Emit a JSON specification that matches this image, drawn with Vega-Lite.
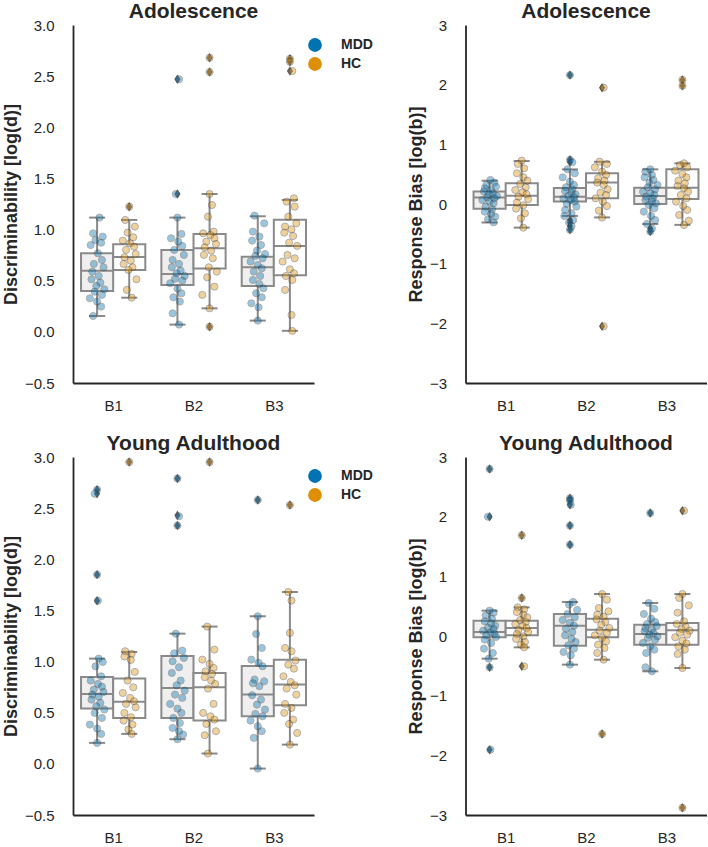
{
"$schema": "https://vega.github.io/schema/vega-lite/v6.json",
"background": "white",
"padding": {"left": 2, "top": 1, "right": 0, "bottom": 0},
"config": {
  "font": "Liberation Sans",
  "view": {"stroke": null},
  "axis": {"grid": false, "ticks": false, "domainColor": "#262626", "domainWidth": 1.8, "labelFont": "Liberation Sans", "labelFontSize": 15, "labelColor": "#262626", "titleFont": "Liberation Sans", "titleFontSize": 18, "titleFontWeight": "bold", "titleColor": "#262626"},
  "axisY": {"labelPadding": 19, "titlePadding": 4},
  "axisX": {"labelPadding": 15},
  "title": {"font": "Liberation Sans", "fontSize": 21, "fontWeight": "bold", "color": "#262626", "frame": "group", "offset": -4, "baseline": "alphabetic", "anchor": "middle"},
  "legend": {"labelFont": "Liberation Sans"}
},
"datasets": {
"box": [
{"p":"TL","b":"B1","g":"MDD","lo":0.155,"q1":0.40,"med":0.598,"q3":0.768,"hi":1.117},
{"p":"TL","b":"B1","g":"HC","lo":0.334,"q1":0.605,"med":0.732,"q3":0.856,"hi":1.094},
{"p":"TL","b":"B2","g":"MDD","lo":0.071,"q1":0.458,"med":0.566,"q3":0.80,"hi":1.117},
{"p":"TL","b":"B2","g":"HC","lo":0.23,"q1":0.62,"med":0.817,"q3":0.957,"hi":1.348},
{"p":"TL","b":"B3","g":"MDD","lo":0.11,"q1":0.449,"med":0.631,"q3":0.735,"hi":1.13},
{"p":"TL","b":"B3","g":"HC","lo":0.01,"q1":0.553,"med":0.84,"q3":1.097,"hi":1.29},
{"p":"TR","b":"B1","g":"MDD","lo":-0.31,"q1":-0.08,"med":0.11,"q3":0.21,"hi":0.39},
{"p":"TR","b":"B1","g":"HC","lo":-0.396,"q1":-0.016,"med":0.14,"q3":0.347,"hi":0.72},
{"p":"TR","b":"B2","g":"MDD","lo":-0.20,"q1":0.04,"med":0.12,"q3":0.27,"hi":0.58},
{"p":"TR","b":"B2","g":"HC","lo":-0.225,"q1":0.095,"med":0.36,"q3":0.514,"hi":0.707},
{"p":"TR","b":"B3","g":"MDD","lo":-0.335,"q1":0.0,"med":0.135,"q3":0.274,"hi":0.581},
{"p":"TR","b":"B3","g":"HC","lo":-0.35,"q1":0.084,"med":0.274,"q3":0.581,"hi":0.682},
{"p":"BL","b":"B1","g":"MDD","lo":0.205,"q1":0.540,"med":0.684,"q3":0.850,"hi":1.029},
{"p":"BL","b":"B1","g":"HC","lo":0.293,"q1":0.449,"med":0.606,"q3":0.834,"hi":1.094},
{"p":"BL","b":"B2","g":"MDD","lo":0.241,"q1":0.449,"med":0.742,"q3":1.055,"hi":1.273},
{"p":"BL","b":"B2","g":"HC","lo":0.101,"q1":0.423,"med":0.749,"q3":0.889,"hi":1.342},
{"p":"BL","b":"B3","g":"MDD","lo":-0.046,"q1":0.465,"med":0.677,"q3":0.957,"hi":1.443},
{"p":"BL","b":"B3","g":"HC","lo":0.188,"q1":0.573,"med":0.775,"q3":1.019,"hi":1.68},
{"p":"BR","b":"B1","g":"MDD","lo":-0.38,"q1":-0.022,"med":0.067,"q3":0.257,"hi":0.425},
{"p":"BR","b":"B1","g":"HC","lo":-0.19,"q1":0.011,"med":0.134,"q3":0.257,"hi":0.48},
{"p":"BR","b":"B2","g":"MDD","lo":-0.48,"q1":-0.162,"med":0.173,"q3":0.369,"hi":0.570},
{"p":"BR","b":"B2","g":"HC","lo":-0.397,"q1":-0.022,"med":0.106,"q3":0.291,"hi":0.704},
{"p":"BR","b":"B3","g":"MDD","lo":-0.592,"q1":-0.145,"med":0.034,"q3":0.19,"hi":0.553},
{"p":"BR","b":"B3","g":"HC","lo":-0.536,"q1":-0.145,"med":0.095,"q3":0.218,"hi":0.704}
],
"out": [
{"p":"TL","b":"B1","g":"HC","v":1.224},
{"p":"TL","b":"B2","g":"MDD","v":1.348},{"p":"TL","b":"B2","g":"MDD","v":2.47},
{"p":"TL","b":"B2","g":"HC","v":0.05},{"p":"TL","b":"B2","g":"HC","v":2.68},{"p":"TL","b":"B2","g":"HC","v":2.54},
{"p":"TL","b":"B3","g":"HC","v":2.67},{"p":"TL","b":"B3","g":"HC","v":2.64},{"p":"TL","b":"B3","g":"HC","v":2.55},
{"p":"TR","b":"B2","g":"MDD","v":2.16},{"p":"TR","b":"B2","g":"MDD","v":0.74},{"p":"TR","b":"B2","g":"MDD","v":0.70},{"p":"TR","b":"B2","g":"MDD","v":-0.27},{"p":"TR","b":"B2","g":"MDD","v":-0.31},{"p":"TR","b":"B2","g":"MDD","v":-0.37},{"p":"TR","b":"B2","g":"MDD","v":-0.43},
{"p":"TR","b":"B2","g":"HC","v":1.95},{"p":"TR","b":"B2","g":"HC","v":-2.05},
{"p":"TR","b":"B3","g":"MDD","v":-0.41},{"p":"TR","b":"B3","g":"MDD","v":-0.46},
{"p":"TR","b":"B3","g":"HC","v":2.08},{"p":"TR","b":"B3","g":"HC","v":1.98},
{"p":"BL","b":"B1","g":"MDD","v":2.68},{"p":"BL","b":"B1","g":"MDD","v":2.64},{"p":"BL","b":"B1","g":"MDD","v":1.85},{"p":"BL","b":"B1","g":"MDD","v":1.595},
{"p":"BL","b":"B1","g":"HC","v":2.95},
{"p":"BL","b":"B2","g":"MDD","v":2.79},{"p":"BL","b":"B2","g":"MDD","v":2.43},{"p":"BL","b":"B2","g":"MDD","v":2.33},
{"p":"BL","b":"B2","g":"HC","v":2.95},
{"p":"BL","b":"B3","g":"MDD","v":2.58},
{"p":"BL","b":"B3","g":"HC","v":2.53},
{"p":"BR","b":"B1","g":"MDD","v":2.80},{"p":"BR","b":"B1","g":"MDD","v":2.0},{"p":"BR","b":"B1","g":"MDD","v":-0.525},{"p":"BR","b":"B1","g":"MDD","v":-1.905},
{"p":"BR","b":"B1","g":"HC","v":1.688},{"p":"BR","b":"B1","g":"HC","v":0.637},{"p":"BR","b":"B1","g":"HC","v":-0.508},
{"p":"BR","b":"B2","g":"MDD","v":2.31},{"p":"BR","b":"B2","g":"MDD","v":2.27},{"p":"BR","b":"B2","g":"MDD","v":2.20},{"p":"BR","b":"B2","g":"MDD","v":1.85},{"p":"BR","b":"B2","g":"MDD","v":1.53},
{"p":"BR","b":"B2","g":"HC","v":-1.642},
{"p":"BR","b":"B3","g":"MDD","v":2.06},
{"p":"BR","b":"B3","g":"HC","v":2.10},{"p":"BR","b":"B3","g":"HC","v":-2.88}
],
"pts": [
{"p":"TL","b":"B1","g":"MDD","v":1.117,"j":0.03},{"p":"TL","b":"B1","g":"MDD","v":0.963,"j":-0.05},{"p":"TL","b":"B1","g":"MDD","v":0.931,"j":0.07},{"p":"TL","b":"B1","g":"MDD","v":0.898,"j":-0.02},{"p":"TL","b":"B1","g":"MDD","v":0.872,"j":0.05},{"p":"TL","b":"B1","g":"MDD","v":0.849,"j":-0.08},{"p":"TL","b":"B1","g":"MDD","v":0.768,"j":0.01},{"p":"TL","b":"B1","g":"MDD","v":0.703,"j":0.06},{"p":"TL","b":"B1","g":"MDD","v":0.664,"j":-0.04},{"p":"TL","b":"B1","g":"MDD","v":0.631,"j":0.08},{"p":"TL","b":"B1","g":"MDD","v":0.589,"j":-0.06},{"p":"TL","b":"B1","g":"MDD","v":0.546,"j":0.02},{"p":"TL","b":"B1","g":"MDD","v":0.514,"j":-0.07},{"p":"TL","b":"B1","g":"MDD","v":0.481,"j":0.04},{"p":"TL","b":"B1","g":"MDD","v":0.449,"j":-0.01},{"p":"TL","b":"B1","g":"MDD","v":0.416,"j":0.09},{"p":"TL","b":"B1","g":"MDD","v":0.393,"j":-0.03},{"p":"TL","b":"B1","g":"MDD","v":0.361,"j":0.06},{"p":"TL","b":"B1","g":"MDD","v":0.328,"j":-0.09},{"p":"TL","b":"B1","g":"MDD","v":0.296,"j":0.0},{"p":"TL","b":"B1","g":"MDD","v":0.247,"j":0.05},{"p":"TL","b":"B1","g":"MDD","v":0.155,"j":-0.05},
{"p":"TL","b":"B1","g":"HC","v":1.224,"j":0.0},{"p":"TL","b":"B1","g":"HC","v":1.094,"j":-0.05},{"p":"TL","b":"B1","g":"HC","v":1.029,"j":0.07},{"p":"TL","b":"B1","g":"HC","v":0.970,"j":-0.02},{"p":"TL","b":"B1","g":"HC","v":0.924,"j":0.05},{"p":"TL","b":"B1","g":"HC","v":0.892,"j":-0.08},{"p":"TL","b":"B1","g":"HC","v":0.866,"j":0.01},{"p":"TL","b":"B1","g":"HC","v":0.833,"j":0.06},{"p":"TL","b":"B1","g":"HC","v":0.801,"j":-0.04},{"p":"TL","b":"B1","g":"HC","v":0.761,"j":0.08},{"p":"TL","b":"B1","g":"HC","v":0.729,"j":-0.06},{"p":"TL","b":"B1","g":"HC","v":0.696,"j":0.02},{"p":"TL","b":"B1","g":"HC","v":0.664,"j":-0.07},{"p":"TL","b":"B1","g":"HC","v":0.631,"j":0.04},{"p":"TL","b":"B1","g":"HC","v":0.605,"j":-0.01},{"p":"TL","b":"B1","g":"HC","v":0.514,"j":0.09},{"p":"TL","b":"B1","g":"HC","v":0.410,"j":-0.03},{"p":"TL","b":"B1","g":"HC","v":0.334,"j":0.03},
{"p":"TL","b":"B2","g":"MDD","v":2.47,"j":0.02},{"p":"TL","b":"B2","g":"MDD","v":1.348,"j":-0.02},{"p":"TL","b":"B2","g":"MDD","v":1.117,"j":0.0},{"p":"TL","b":"B2","g":"MDD","v":0.957,"j":0.05},{"p":"TL","b":"B2","g":"MDD","v":0.915,"j":-0.08},{"p":"TL","b":"B2","g":"MDD","v":0.882,"j":0.01},{"p":"TL","b":"B2","g":"MDD","v":0.840,"j":0.06},{"p":"TL","b":"B2","g":"MDD","v":0.801,"j":-0.04},{"p":"TL","b":"B2","g":"MDD","v":0.752,"j":0.08},{"p":"TL","b":"B2","g":"MDD","v":0.703,"j":-0.06},{"p":"TL","b":"B2","g":"MDD","v":0.664,"j":0.02},{"p":"TL","b":"B2","g":"MDD","v":0.631,"j":-0.07},{"p":"TL","b":"B2","g":"MDD","v":0.599,"j":0.04},{"p":"TL","b":"B2","g":"MDD","v":0.572,"j":-0.01},{"p":"TL","b":"B2","g":"MDD","v":0.546,"j":0.09},{"p":"TL","b":"B2","g":"MDD","v":0.520,"j":-0.03},{"p":"TL","b":"B2","g":"MDD","v":0.501,"j":0.06},{"p":"TL","b":"B2","g":"MDD","v":0.475,"j":-0.09},{"p":"TL","b":"B2","g":"MDD","v":0.423,"j":0.0},{"p":"TL","b":"B2","g":"MDD","v":0.377,"j":0.05},{"p":"TL","b":"B2","g":"MDD","v":0.338,"j":-0.05},{"p":"TL","b":"B2","g":"MDD","v":0.296,"j":0.03},{"p":"TL","b":"B2","g":"MDD","v":0.181,"j":-0.06},{"p":"TL","b":"B2","g":"MDD","v":0.071,"j":0.02},
{"p":"TL","b":"B2","g":"HC","v":2.68,"j":0.0},{"p":"TL","b":"B2","g":"HC","v":2.54,"j":0.0},{"p":"TL","b":"B2","g":"HC","v":1.348,"j":0.0},{"p":"TL","b":"B2","g":"HC","v":1.24,"j":0.03},{"p":"TL","b":"B2","g":"HC","v":1.126,"j":-0.02},{"p":"TL","b":"B2","g":"HC","v":0.980,"j":0.05},{"p":"TL","b":"B2","g":"HC","v":0.963,"j":-0.08},{"p":"TL","b":"B2","g":"HC","v":0.947,"j":0.01},{"p":"TL","b":"B2","g":"HC","v":0.915,"j":0.06},{"p":"TL","b":"B2","g":"HC","v":0.882,"j":-0.04},{"p":"TL","b":"B2","g":"HC","v":0.859,"j":0.08},{"p":"TL","b":"B2","g":"HC","v":0.827,"j":-0.06},{"p":"TL","b":"B2","g":"HC","v":0.794,"j":0.02},{"p":"TL","b":"B2","g":"HC","v":0.752,"j":-0.07},{"p":"TL","b":"B2","g":"HC","v":0.719,"j":0.04},{"p":"TL","b":"B2","g":"HC","v":0.631,"j":-0.01},{"p":"TL","b":"B2","g":"HC","v":0.589,"j":0.09},{"p":"TL","b":"B2","g":"HC","v":0.533,"j":-0.03},{"p":"TL","b":"B2","g":"HC","v":0.442,"j":0.06},{"p":"TL","b":"B2","g":"HC","v":0.361,"j":-0.09},{"p":"TL","b":"B2","g":"HC","v":0.230,"j":0.0},{"p":"TL","b":"B2","g":"HC","v":0.05,"j":0.0},
{"p":"TL","b":"B3","g":"MDD","v":1.136,"j":-0.04},{"p":"TL","b":"B3","g":"MDD","v":1.061,"j":0.08},{"p":"TL","b":"B3","g":"MDD","v":0.980,"j":-0.06},{"p":"TL","b":"B3","g":"MDD","v":0.931,"j":0.02},{"p":"TL","b":"B3","g":"MDD","v":0.892,"j":-0.07},{"p":"TL","b":"B3","g":"MDD","v":0.849,"j":0.04},{"p":"TL","b":"B3","g":"MDD","v":0.794,"j":-0.01},{"p":"TL","b":"B3","g":"MDD","v":0.761,"j":0.09},{"p":"TL","b":"B3","g":"MDD","v":0.742,"j":-0.03},{"p":"TL","b":"B3","g":"MDD","v":0.719,"j":0.06},{"p":"TL","b":"B3","g":"MDD","v":0.687,"j":-0.09},{"p":"TL","b":"B3","g":"MDD","v":0.654,"j":0.0},{"p":"TL","b":"B3","g":"MDD","v":0.621,"j":0.05},{"p":"TL","b":"B3","g":"MDD","v":0.589,"j":-0.05},{"p":"TL","b":"B3","g":"MDD","v":0.546,"j":0.03},{"p":"TL","b":"B3","g":"MDD","v":0.507,"j":-0.06},{"p":"TL","b":"B3","g":"MDD","v":0.468,"j":0.02},{"p":"TL","b":"B3","g":"MDD","v":0.426,"j":0.07},{"p":"TL","b":"B3","g":"MDD","v":0.377,"j":-0.02},{"p":"TL","b":"B3","g":"MDD","v":0.338,"j":0.05},{"p":"TL","b":"B3","g":"MDD","v":0.279,"j":-0.08},{"p":"TL","b":"B3","g":"MDD","v":0.240,"j":0.01},{"p":"TL","b":"B3","g":"MDD","v":0.110,"j":0.0},
{"p":"TL","b":"B3","g":"HC","v":2.67,"j":0.0},{"p":"TL","b":"B3","g":"HC","v":2.64,"j":0.0},{"p":"TL","b":"B3","g":"HC","v":2.55,"j":0.03},{"p":"TL","b":"B3","g":"HC","v":1.306,"j":0.05},{"p":"TL","b":"B3","g":"HC","v":1.273,"j":-0.04},{"p":"TL","b":"B3","g":"HC","v":1.224,"j":0.06},{"p":"TL","b":"B3","g":"HC","v":1.126,"j":-0.02},{"p":"TL","b":"B3","g":"HC","v":1.061,"j":0.08},{"p":"TL","b":"B3","g":"HC","v":1.029,"j":-0.06},{"p":"TL","b":"B3","g":"HC","v":1.003,"j":0.02},{"p":"TL","b":"B3","g":"HC","v":0.970,"j":-0.07},{"p":"TL","b":"B3","g":"HC","v":0.937,"j":0.04},{"p":"TL","b":"B3","g":"HC","v":0.872,"j":-0.01},{"p":"TL","b":"B3","g":"HC","v":0.840,"j":0.09},{"p":"TL","b":"B3","g":"HC","v":0.752,"j":-0.03},{"p":"TL","b":"B3","g":"HC","v":0.719,"j":0.06},{"p":"TL","b":"B3","g":"HC","v":0.687,"j":-0.09},{"p":"TL","b":"B3","g":"HC","v":0.612,"j":0.0},{"p":"TL","b":"B3","g":"HC","v":0.572,"j":0.05},{"p":"TL","b":"B3","g":"HC","v":0.546,"j":-0.05},{"p":"TL","b":"B3","g":"HC","v":0.507,"j":0.03},{"p":"TL","b":"B3","g":"HC","v":0.410,"j":-0.06},{"p":"TL","b":"B3","g":"HC","v":0.165,"j":0.02},{"p":"TL","b":"B3","g":"HC","v":0.009,"j":0.03},
{"p":"TR","b":"B1","g":"MDD","v":0.403,"j":0.01},{"p":"TR","b":"B1","g":"MDD","v":0.358,"j":0.06},{"p":"TR","b":"B1","g":"MDD","v":0.319,"j":-0.04},{"p":"TR","b":"B1","g":"MDD","v":0.291,"j":0.08},{"p":"TR","b":"B1","g":"MDD","v":0.263,"j":-0.06},{"p":"TR","b":"B1","g":"MDD","v":0.235,"j":0.02},{"p":"TR","b":"B1","g":"MDD","v":0.207,"j":-0.07},{"p":"TR","b":"B1","g":"MDD","v":0.179,"j":0.04},{"p":"TR","b":"B1","g":"MDD","v":0.162,"j":-0.01},{"p":"TR","b":"B1","g":"MDD","v":0.135,"j":0.09},{"p":"TR","b":"B1","g":"MDD","v":0.112,"j":-0.03},{"p":"TR","b":"B1","g":"MDD","v":0.095,"j":0.06},{"p":"TR","b":"B1","g":"MDD","v":0.067,"j":-0.09},{"p":"TR","b":"B1","g":"MDD","v":0.040,"j":0.0},{"p":"TR","b":"B1","g":"MDD","v":0.012,"j":0.05},{"p":"TR","b":"B1","g":"MDD","v":-0.044,"j":-0.05},{"p":"TR","b":"B1","g":"MDD","v":-0.089,"j":0.03},{"p":"TR","b":"B1","g":"MDD","v":-0.128,"j":-0.06},{"p":"TR","b":"B1","g":"MDD","v":-0.167,"j":0.02},{"p":"TR","b":"B1","g":"MDD","v":-0.212,"j":0.07},{"p":"TR","b":"B1","g":"MDD","v":-0.256,"j":-0.02},{"p":"TR","b":"B1","g":"MDD","v":-0.307,"j":0.05},
{"p":"TR","b":"B1","g":"HC","v":0.727,"j":0.0},{"p":"TR","b":"B1","g":"HC","v":0.671,"j":-0.05},{"p":"TR","b":"B1","g":"HC","v":0.598,"j":0.03},{"p":"TR","b":"B1","g":"HC","v":0.514,"j":-0.06},{"p":"TR","b":"B1","g":"HC","v":0.447,"j":0.02},{"p":"TR","b":"B1","g":"HC","v":0.392,"j":0.07},{"p":"TR","b":"B1","g":"HC","v":0.336,"j":-0.02},{"p":"TR","b":"B1","g":"HC","v":0.280,"j":0.05},{"p":"TR","b":"B1","g":"HC","v":0.235,"j":-0.08},{"p":"TR","b":"B1","g":"HC","v":0.196,"j":0.01},{"p":"TR","b":"B1","g":"HC","v":0.162,"j":0.06},{"p":"TR","b":"B1","g":"HC","v":0.123,"j":-0.04},{"p":"TR","b":"B1","g":"HC","v":0.079,"j":0.08},{"p":"TR","b":"B1","g":"HC","v":0.023,"j":-0.06},{"p":"TR","b":"B1","g":"HC","v":-0.022,"j":0.02},{"p":"TR","b":"B1","g":"HC","v":-0.078,"j":-0.07},{"p":"TR","b":"B1","g":"HC","v":-0.156,"j":0.04},{"p":"TR","b":"B1","g":"HC","v":-0.240,"j":-0.01},{"p":"TR","b":"B1","g":"HC","v":-0.396,"j":0.02},
{"p":"TR","b":"B2","g":"MDD","v":2.16,"j":0.0},{"p":"TR","b":"B2","g":"MDD","v":0.74,"j":0.0},{"p":"TR","b":"B2","g":"MDD","v":0.70,"j":0.03},{"p":"TR","b":"B2","g":"MDD","v":0.581,"j":-0.03},{"p":"TR","b":"B2","g":"MDD","v":0.514,"j":0.06},{"p":"TR","b":"B2","g":"MDD","v":0.447,"j":-0.09},{"p":"TR","b":"B2","g":"MDD","v":0.375,"j":0.0},{"p":"TR","b":"B2","g":"MDD","v":0.319,"j":0.05},{"p":"TR","b":"B2","g":"MDD","v":0.280,"j":-0.05},{"p":"TR","b":"B2","g":"MDD","v":0.246,"j":0.03},{"p":"TR","b":"B2","g":"MDD","v":0.218,"j":-0.06},{"p":"TR","b":"B2","g":"MDD","v":0.190,"j":0.02},{"p":"TR","b":"B2","g":"MDD","v":0.162,"j":0.07},{"p":"TR","b":"B2","g":"MDD","v":0.135,"j":-0.02},{"p":"TR","b":"B2","g":"MDD","v":0.112,"j":0.05},{"p":"TR","b":"B2","g":"MDD","v":0.090,"j":-0.08},{"p":"TR","b":"B2","g":"MDD","v":0.067,"j":0.01},{"p":"TR","b":"B2","g":"MDD","v":0.040,"j":0.06},{"p":"TR","b":"B2","g":"MDD","v":0.0,"j":-0.04},{"p":"TR","b":"B2","g":"MDD","v":-0.044,"j":0.08},{"p":"TR","b":"B2","g":"MDD","v":-0.100,"j":-0.06},{"p":"TR","b":"B2","g":"MDD","v":-0.156,"j":0.02},{"p":"TR","b":"B2","g":"MDD","v":-0.201,"j":-0.07},{"p":"TR","b":"B2","g":"MDD","v":-0.27,"j":0.04},{"p":"TR","b":"B2","g":"MDD","v":-0.31,"j":-0.01},{"p":"TR","b":"B2","g":"MDD","v":-0.37,"j":0.02},{"p":"TR","b":"B2","g":"MDD","v":-0.43,"j":0.0},
{"p":"TR","b":"B2","g":"HC","v":1.95,"j":0.02},{"p":"TR","b":"B2","g":"HC","v":0.710,"j":-0.03},{"p":"TR","b":"B2","g":"HC","v":0.671,"j":0.06},{"p":"TR","b":"B2","g":"HC","v":0.615,"j":-0.09},{"p":"TR","b":"B2","g":"HC","v":0.542,"j":0.0},{"p":"TR","b":"B2","g":"HC","v":0.487,"j":0.05},{"p":"TR","b":"B2","g":"HC","v":0.431,"j":-0.05},{"p":"TR","b":"B2","g":"HC","v":0.392,"j":0.03},{"p":"TR","b":"B2","g":"HC","v":0.358,"j":-0.06},{"p":"TR","b":"B2","g":"HC","v":0.319,"j":0.02},{"p":"TR","b":"B2","g":"HC","v":0.246,"j":0.07},{"p":"TR","b":"B2","g":"HC","v":0.190,"j":-0.02},{"p":"TR","b":"B2","g":"HC","v":0.151,"j":0.05},{"p":"TR","b":"B2","g":"HC","v":0.095,"j":-0.08},{"p":"TR","b":"B2","g":"HC","v":0.040,"j":0.01},{"p":"TR","b":"B2","g":"HC","v":-0.034,"j":0.06},{"p":"TR","b":"B2","g":"HC","v":-0.111,"j":-0.04},{"p":"TR","b":"B2","g":"HC","v":-0.228,"j":0.0},{"p":"TR","b":"B2","g":"HC","v":-2.05,"j":0.02},
{"p":"TR","b":"B3","g":"MDD","v":0.581,"j":0.0},{"p":"TR","b":"B3","g":"MDD","v":0.542,"j":-0.06},{"p":"TR","b":"B3","g":"MDD","v":0.487,"j":0.02},{"p":"TR","b":"B3","g":"MDD","v":0.447,"j":-0.07},{"p":"TR","b":"B3","g":"MDD","v":0.403,"j":0.04},{"p":"TR","b":"B3","g":"MDD","v":0.358,"j":-0.01},{"p":"TR","b":"B3","g":"MDD","v":0.319,"j":0.09},{"p":"TR","b":"B3","g":"MDD","v":0.280,"j":-0.03},{"p":"TR","b":"B3","g":"MDD","v":0.246,"j":0.06},{"p":"TR","b":"B3","g":"MDD","v":0.207,"j":-0.09},{"p":"TR","b":"B3","g":"MDD","v":0.179,"j":0.0},{"p":"TR","b":"B3","g":"MDD","v":0.151,"j":0.05},{"p":"TR","b":"B3","g":"MDD","v":0.123,"j":-0.05},{"p":"TR","b":"B3","g":"MDD","v":0.095,"j":0.03},{"p":"TR","b":"B3","g":"MDD","v":0.067,"j":-0.06},{"p":"TR","b":"B3","g":"MDD","v":0.040,"j":0.02},{"p":"TR","b":"B3","g":"MDD","v":0.012,"j":0.07},{"p":"TR","b":"B3","g":"MDD","v":-0.016,"j":-0.02},{"p":"TR","b":"B3","g":"MDD","v":-0.072,"j":0.05},{"p":"TR","b":"B3","g":"MDD","v":-0.128,"j":-0.08},{"p":"TR","b":"B3","g":"MDD","v":-0.201,"j":0.01},{"p":"TR","b":"B3","g":"MDD","v":-0.268,"j":0.06},{"p":"TR","b":"B3","g":"MDD","v":-0.335,"j":-0.04},{"p":"TR","b":"B3","g":"MDD","v":-0.41,"j":0.02},{"p":"TR","b":"B3","g":"MDD","v":-0.46,"j":0.0},
{"p":"TR","b":"B3","g":"HC","v":2.08,"j":0.0},{"p":"TR","b":"B3","g":"HC","v":1.98,"j":0.0},{"p":"TR","b":"B3","g":"HC","v":0.682,"j":0.02},{"p":"TR","b":"B3","g":"HC","v":0.654,"j":-0.03},{"p":"TR","b":"B3","g":"HC","v":0.615,"j":0.06},{"p":"TR","b":"B3","g":"HC","v":0.559,"j":-0.09},{"p":"TR","b":"B3","g":"HC","v":0.503,"j":0.0},{"p":"TR","b":"B3","g":"HC","v":0.447,"j":0.05},{"p":"TR","b":"B3","g":"HC","v":0.392,"j":-0.05},{"p":"TR","b":"B3","g":"HC","v":0.347,"j":0.03},{"p":"TR","b":"B3","g":"HC","v":0.302,"j":-0.06},{"p":"TR","b":"B3","g":"HC","v":0.263,"j":0.02},{"p":"TR","b":"B3","g":"HC","v":0.207,"j":0.07},{"p":"TR","b":"B3","g":"HC","v":0.151,"j":-0.02},{"p":"TR","b":"B3","g":"HC","v":0.095,"j":0.05},{"p":"TR","b":"B3","g":"HC","v":0.040,"j":-0.08},{"p":"TR","b":"B3","g":"HC","v":-0.034,"j":0.01},{"p":"TR","b":"B3","g":"HC","v":-0.100,"j":0.06},{"p":"TR","b":"B3","g":"HC","v":-0.184,"j":-0.04},{"p":"TR","b":"B3","g":"HC","v":-0.279,"j":0.08},{"p":"TR","b":"B3","g":"HC","v":-0.352,"j":0.02},
{"p":"BL","b":"B1","g":"MDD","v":2.68,"j":0.0},{"p":"BL","b":"B1","g":"MDD","v":2.64,"j":-0.03},{"p":"BL","b":"B1","g":"MDD","v":1.85,"j":0.0},{"p":"BL","b":"B1","g":"MDD","v":1.595,"j":0.01},{"p":"BL","b":"B1","g":"MDD","v":1.029,"j":0.02},{"p":"BL","b":"B1","g":"MDD","v":0.996,"j":0.07},{"p":"BL","b":"B1","g":"MDD","v":0.954,"j":-0.02},{"p":"BL","b":"B1","g":"MDD","v":0.856,"j":0.05},{"p":"BL","b":"B1","g":"MDD","v":0.814,"j":-0.08},{"p":"BL","b":"B1","g":"MDD","v":0.781,"j":0.01},{"p":"BL","b":"B1","g":"MDD","v":0.755,"j":0.06},{"p":"BL","b":"B1","g":"MDD","v":0.726,"j":-0.04},{"p":"BL","b":"B1","g":"MDD","v":0.703,"j":0.08},{"p":"BL","b":"B1","g":"MDD","v":0.677,"j":-0.06},{"p":"BL","b":"B1","g":"MDD","v":0.658,"j":0.02},{"p":"BL","b":"B1","g":"MDD","v":0.628,"j":-0.07},{"p":"BL","b":"B1","g":"MDD","v":0.596,"j":0.04},{"p":"BL","b":"B1","g":"MDD","v":0.563,"j":-0.01},{"p":"BL","b":"B1","g":"MDD","v":0.531,"j":0.09},{"p":"BL","b":"B1","g":"MDD","v":0.498,"j":-0.03},{"p":"BL","b":"B1","g":"MDD","v":0.449,"j":0.06},{"p":"BL","b":"B1","g":"MDD","v":0.384,"j":-0.09},{"p":"BL","b":"B1","g":"MDD","v":0.345,"j":0.0},{"p":"BL","b":"B1","g":"MDD","v":0.293,"j":0.05},{"p":"BL","b":"B1","g":"MDD","v":0.205,"j":0.0},
{"p":"BL","b":"B1","g":"HC","v":2.95,"j":0.0},{"p":"BL","b":"B1","g":"HC","v":1.101,"j":-0.05},{"p":"BL","b":"B1","g":"HC","v":1.075,"j":0.03},{"p":"BL","b":"B1","g":"HC","v":1.049,"j":-0.06},{"p":"BL","b":"B1","g":"HC","v":1.016,"j":0.02},{"p":"BL","b":"B1","g":"HC","v":0.899,"j":0.07},{"p":"BL","b":"B1","g":"HC","v":0.814,"j":-0.02},{"p":"BL","b":"B1","g":"HC","v":0.749,"j":0.05},{"p":"BL","b":"B1","g":"HC","v":0.693,"j":-0.08},{"p":"BL","b":"B1","g":"HC","v":0.645,"j":0.01},{"p":"BL","b":"B1","g":"HC","v":0.612,"j":0.06},{"p":"BL","b":"B1","g":"HC","v":0.586,"j":-0.04},{"p":"BL","b":"B1","g":"HC","v":0.553,"j":0.08},{"p":"BL","b":"B1","g":"HC","v":0.498,"j":-0.06},{"p":"BL","b":"B1","g":"HC","v":0.456,"j":0.02},{"p":"BL","b":"B1","g":"HC","v":0.423,"j":-0.07},{"p":"BL","b":"B1","g":"HC","v":0.384,"j":0.04},{"p":"BL","b":"B1","g":"HC","v":0.335,"j":-0.01},{"p":"BL","b":"B1","g":"HC","v":0.293,"j":0.03},
{"p":"BL","b":"B2","g":"MDD","v":2.79,"j":0.0},{"p":"BL","b":"B2","g":"MDD","v":2.42,"j":0.02},{"p":"BL","b":"B2","g":"MDD","v":2.33,"j":0.0},{"p":"BL","b":"B2","g":"MDD","v":1.273,"j":-0.02},{"p":"BL","b":"B2","g":"MDD","v":1.107,"j":0.06},{"p":"BL","b":"B2","g":"MDD","v":1.081,"j":-0.04},{"p":"BL","b":"B2","g":"MDD","v":1.036,"j":0.08},{"p":"BL","b":"B2","g":"MDD","v":1.003,"j":-0.06},{"p":"BL","b":"B2","g":"MDD","v":0.944,"j":0.02},{"p":"BL","b":"B2","g":"MDD","v":0.889,"j":-0.07},{"p":"BL","b":"B2","g":"MDD","v":0.814,"j":0.04},{"p":"BL","b":"B2","g":"MDD","v":0.768,"j":-0.01},{"p":"BL","b":"B2","g":"MDD","v":0.716,"j":0.09},{"p":"BL","b":"B2","g":"MDD","v":0.677,"j":-0.03},{"p":"BL","b":"B2","g":"MDD","v":0.645,"j":0.06},{"p":"BL","b":"B2","g":"MDD","v":0.586,"j":-0.09},{"p":"BL","b":"B2","g":"MDD","v":0.540,"j":0.0},{"p":"BL","b":"B2","g":"MDD","v":0.498,"j":0.05},{"p":"BL","b":"B2","g":"MDD","v":0.449,"j":-0.05},{"p":"BL","b":"B2","g":"MDD","v":0.400,"j":0.03},{"p":"BL","b":"B2","g":"MDD","v":0.351,"j":-0.06},{"p":"BL","b":"B2","g":"MDD","v":0.319,"j":0.02},{"p":"BL","b":"B2","g":"MDD","v":0.286,"j":0.07},{"p":"BL","b":"B2","g":"MDD","v":0.241,"j":0.0},
{"p":"BL","b":"B2","g":"HC","v":2.95,"j":0.0},{"p":"BL","b":"B2","g":"HC","v":1.342,"j":-0.03},{"p":"BL","b":"B2","g":"HC","v":1.117,"j":0.06},{"p":"BL","b":"B2","g":"HC","v":1.019,"j":-0.09},{"p":"BL","b":"B2","g":"HC","v":0.977,"j":0.0},{"p":"BL","b":"B2","g":"HC","v":0.938,"j":0.05},{"p":"BL","b":"B2","g":"HC","v":0.905,"j":-0.05},{"p":"BL","b":"B2","g":"HC","v":0.879,"j":0.03},{"p":"BL","b":"B2","g":"HC","v":0.847,"j":-0.06},{"p":"BL","b":"B2","g":"HC","v":0.814,"j":0.02},{"p":"BL","b":"B2","g":"HC","v":0.781,"j":0.07},{"p":"BL","b":"B2","g":"HC","v":0.736,"j":-0.02},{"p":"BL","b":"B2","g":"HC","v":0.586,"j":0.05},{"p":"BL","b":"B2","g":"HC","v":0.498,"j":-0.08},{"p":"BL","b":"B2","g":"HC","v":0.465,"j":0.01},{"p":"BL","b":"B2","g":"HC","v":0.433,"j":0.06},{"p":"BL","b":"B2","g":"HC","v":0.390,"j":-0.04},{"p":"BL","b":"B2","g":"HC","v":0.319,"j":0.08},{"p":"BL","b":"B2","g":"HC","v":0.280,"j":-0.06},{"p":"BL","b":"B2","g":"HC","v":0.101,"j":-0.02},
{"p":"BL","b":"B3","g":"MDD","v":2.58,"j":0.0},{"p":"BL","b":"B3","g":"MDD","v":1.443,"j":0.0},{"p":"BL","b":"B3","g":"MDD","v":1.270,"j":-0.02},{"p":"BL","b":"B3","g":"MDD","v":1.133,"j":0.05},{"p":"BL","b":"B3","g":"MDD","v":1.019,"j":-0.08},{"p":"BL","b":"B3","g":"MDD","v":0.987,"j":0.01},{"p":"BL","b":"B3","g":"MDD","v":0.954,"j":0.06},{"p":"BL","b":"B3","g":"MDD","v":0.824,"j":-0.04},{"p":"BL","b":"B3","g":"MDD","v":0.807,"j":0.08},{"p":"BL","b":"B3","g":"MDD","v":0.788,"j":-0.06},{"p":"BL","b":"B3","g":"MDD","v":0.759,"j":0.02},{"p":"BL","b":"B3","g":"MDD","v":0.671,"j":-0.07},{"p":"BL","b":"B3","g":"MDD","v":0.628,"j":0.04},{"p":"BL","b":"B3","g":"MDD","v":0.579,"j":-0.01},{"p":"BL","b":"B3","g":"MDD","v":0.531,"j":0.09},{"p":"BL","b":"B3","g":"MDD","v":0.488,"j":-0.03},{"p":"BL","b":"B3","g":"MDD","v":0.465,"j":0.06},{"p":"BL","b":"B3","g":"MDD","v":0.423,"j":-0.09},{"p":"BL","b":"B3","g":"MDD","v":0.368,"j":0.0},{"p":"BL","b":"B3","g":"MDD","v":0.319,"j":0.05},{"p":"BL","b":"B3","g":"MDD","v":0.254,"j":-0.05},{"p":"BL","b":"B3","g":"MDD","v":-0.046,"j":0.0},
{"p":"BL","b":"B3","g":"HC","v":2.53,"j":0.0},{"p":"BL","b":"B3","g":"HC","v":1.68,"j":-0.02},{"p":"BL","b":"B3","g":"HC","v":1.596,"j":0.02},{"p":"BL","b":"B3","g":"HC","v":1.280,"j":0.0},{"p":"BL","b":"B3","g":"HC","v":1.133,"j":-0.06},{"p":"BL","b":"B3","g":"HC","v":1.101,"j":0.02},{"p":"BL","b":"B3","g":"HC","v":1.010,"j":0.07},{"p":"BL","b":"B3","g":"HC","v":0.970,"j":-0.02},{"p":"BL","b":"B3","g":"HC","v":0.931,"j":0.05},{"p":"BL","b":"B3","g":"HC","v":0.856,"j":-0.08},{"p":"BL","b":"B3","g":"HC","v":0.801,"j":0.01},{"p":"BL","b":"B3","g":"HC","v":0.768,"j":0.06},{"p":"BL","b":"B3","g":"HC","v":0.736,"j":-0.04},{"p":"BL","b":"B3","g":"HC","v":0.677,"j":0.08},{"p":"BL","b":"B3","g":"HC","v":0.586,"j":-0.06},{"p":"BL","b":"B3","g":"HC","v":0.547,"j":0.02},{"p":"BL","b":"B3","g":"HC","v":0.498,"j":-0.07},{"p":"BL","b":"B3","g":"HC","v":0.433,"j":0.04},{"p":"BL","b":"B3","g":"HC","v":0.390,"j":-0.01},{"p":"BL","b":"B3","g":"HC","v":0.302,"j":0.09},{"p":"BL","b":"B3","g":"HC","v":0.188,"j":0.0},
{"p":"BR","b":"B1","g":"MDD","v":2.80,"j":0.0},{"p":"BR","b":"B1","g":"MDD","v":2.0,"j":-0.02},{"p":"BR","b":"B1","g":"MDD","v":0.425,"j":0.0},{"p":"BR","b":"B1","g":"MDD","v":0.391,"j":0.05},{"p":"BR","b":"B1","g":"MDD","v":0.346,"j":-0.05},{"p":"BR","b":"B1","g":"MDD","v":0.290,"j":0.03},{"p":"BR","b":"B1","g":"MDD","v":0.246,"j":-0.06},{"p":"BR","b":"B1","g":"MDD","v":0.207,"j":0.02},{"p":"BR","b":"B1","g":"MDD","v":0.173,"j":0.07},{"p":"BR","b":"B1","g":"MDD","v":0.140,"j":-0.02},{"p":"BR","b":"B1","g":"MDD","v":0.112,"j":0.05},{"p":"BR","b":"B1","g":"MDD","v":0.089,"j":-0.08},{"p":"BR","b":"B1","g":"MDD","v":0.061,"j":0.01},{"p":"BR","b":"B1","g":"MDD","v":0.039,"j":0.06},{"p":"BR","b":"B1","g":"MDD","v":0.011,"j":-0.04},{"p":"BR","b":"B1","g":"MDD","v":-0.017,"j":0.08},{"p":"BR","b":"B1","g":"MDD","v":-0.061,"j":-0.06},{"p":"BR","b":"B1","g":"MDD","v":-0.117,"j":0.02},{"p":"BR","b":"B1","g":"MDD","v":-0.212,"j":-0.07},{"p":"BR","b":"B1","g":"MDD","v":-0.285,"j":0.04},{"p":"BR","b":"B1","g":"MDD","v":-0.380,"j":-0.01},{"p":"BR","b":"B1","g":"MDD","v":-0.525,"j":0.0},{"p":"BR","b":"B1","g":"MDD","v":-1.905,"j":0.01},
{"p":"BR","b":"B1","g":"HC","v":1.688,"j":0.0},{"p":"BR","b":"B1","g":"HC","v":0.637,"j":0.0},{"p":"BR","b":"B1","g":"HC","v":0.480,"j":-0.05},{"p":"BR","b":"B1","g":"HC","v":0.447,"j":0.03},{"p":"BR","b":"B1","g":"HC","v":0.402,"j":-0.06},{"p":"BR","b":"B1","g":"HC","v":0.358,"j":0.02},{"p":"BR","b":"B1","g":"HC","v":0.313,"j":0.07},{"p":"BR","b":"B1","g":"HC","v":0.268,"j":-0.02},{"p":"BR","b":"B1","g":"HC","v":0.235,"j":0.05},{"p":"BR","b":"B1","g":"HC","v":0.201,"j":-0.08},{"p":"BR","b":"B1","g":"HC","v":0.168,"j":0.01},{"p":"BR","b":"B1","g":"HC","v":0.134,"j":0.06},{"p":"BR","b":"B1","g":"HC","v":0.101,"j":-0.04},{"p":"BR","b":"B1","g":"HC","v":0.067,"j":0.08},{"p":"BR","b":"B1","g":"HC","v":0.034,"j":-0.06},{"p":"BR","b":"B1","g":"HC","v":-0.006,"j":0.02},{"p":"BR","b":"B1","g":"HC","v":-0.050,"j":-0.07},{"p":"BR","b":"B1","g":"HC","v":-0.101,"j":0.04},{"p":"BR","b":"B1","g":"HC","v":-0.145,"j":-0.01},{"p":"BR","b":"B1","g":"HC","v":-0.190,"j":0.03},{"p":"BR","b":"B1","g":"HC","v":-0.508,"j":0.03},
{"p":"BR","b":"B2","g":"MDD","v":2.31,"j":0.0},{"p":"BR","b":"B2","g":"MDD","v":2.27,"j":0.0},{"p":"BR","b":"B2","g":"MDD","v":2.20,"j":0.01},{"p":"BR","b":"B2","g":"MDD","v":1.85,"j":0.0},{"p":"BR","b":"B2","g":"MDD","v":1.53,"j":0.0},{"p":"BR","b":"B2","g":"MDD","v":0.570,"j":0.04},{"p":"BR","b":"B2","g":"MDD","v":0.525,"j":-0.01},{"p":"BR","b":"B2","g":"MDD","v":0.436,"j":0.09},{"p":"BR","b":"B2","g":"MDD","v":0.369,"j":-0.03},{"p":"BR","b":"B2","g":"MDD","v":0.313,"j":0.06},{"p":"BR","b":"B2","g":"MDD","v":0.268,"j":-0.09},{"p":"BR","b":"B2","g":"MDD","v":0.224,"j":0.0},{"p":"BR","b":"B2","g":"MDD","v":0.173,"j":0.05},{"p":"BR","b":"B2","g":"MDD","v":0.123,"j":-0.05},{"p":"BR","b":"B2","g":"MDD","v":0.067,"j":0.03},{"p":"BR","b":"B2","g":"MDD","v":0.011,"j":-0.06},{"p":"BR","b":"B2","g":"MDD","v":-0.045,"j":0.02},{"p":"BR","b":"B2","g":"MDD","v":-0.101,"j":0.07},{"p":"BR","b":"B2","g":"MDD","v":-0.156,"j":-0.02},{"p":"BR","b":"B2","g":"MDD","v":-0.212,"j":0.05},{"p":"BR","b":"B2","g":"MDD","v":-0.268,"j":-0.08},{"p":"BR","b":"B2","g":"MDD","v":-0.324,"j":0.01},{"p":"BR","b":"B2","g":"MDD","v":-0.480,"j":0.0},
{"p":"BR","b":"B2","g":"HC","v":0.704,"j":0.0},{"p":"BR","b":"B2","g":"HC","v":0.609,"j":0.06},{"p":"BR","b":"B2","g":"HC","v":0.469,"j":-0.04},{"p":"BR","b":"B2","g":"HC","v":0.413,"j":0.08},{"p":"BR","b":"B2","g":"HC","v":0.358,"j":-0.06},{"p":"BR","b":"B2","g":"HC","v":0.324,"j":0.02},{"p":"BR","b":"B2","g":"HC","v":0.279,"j":-0.07},{"p":"BR","b":"B2","g":"HC","v":0.235,"j":0.04},{"p":"BR","b":"B2","g":"HC","v":0.190,"j":-0.01},{"p":"BR","b":"B2","g":"HC","v":0.134,"j":0.09},{"p":"BR","b":"B2","g":"HC","v":0.089,"j":-0.03},{"p":"BR","b":"B2","g":"HC","v":0.050,"j":0.06},{"p":"BR","b":"B2","g":"HC","v":0.011,"j":-0.09},{"p":"BR","b":"B2","g":"HC","v":-0.034,"j":0.0},{"p":"BR","b":"B2","g":"HC","v":-0.089,"j":0.05},{"p":"BR","b":"B2","g":"HC","v":-0.145,"j":-0.05},{"p":"BR","b":"B2","g":"HC","v":-0.201,"j":0.03},{"p":"BR","b":"B2","g":"HC","v":-0.285,"j":-0.06},{"p":"BR","b":"B2","g":"HC","v":-0.397,"j":0.02},{"p":"BR","b":"B2","g":"HC","v":-1.642,"j":0.0},
{"p":"BR","b":"B3","g":"MDD","v":2.06,"j":0.0},{"p":"BR","b":"B3","g":"MDD","v":0.553,"j":-0.02},{"p":"BR","b":"B3","g":"MDD","v":0.458,"j":0.05},{"p":"BR","b":"B3","g":"MDD","v":0.369,"j":-0.08},{"p":"BR","b":"B3","g":"MDD","v":0.290,"j":0.01},{"p":"BR","b":"B3","g":"MDD","v":0.235,"j":0.06},{"p":"BR","b":"B3","g":"MDD","v":0.201,"j":-0.04},{"p":"BR","b":"B3","g":"MDD","v":0.168,"j":0.08},{"p":"BR","b":"B3","g":"MDD","v":0.134,"j":-0.06},{"p":"BR","b":"B3","g":"MDD","v":0.106,"j":0.02},{"p":"BR","b":"B3","g":"MDD","v":0.078,"j":-0.07},{"p":"BR","b":"B3","g":"MDD","v":0.050,"j":0.04},{"p":"BR","b":"B3","g":"MDD","v":0.022,"j":-0.01},{"p":"BR","b":"B3","g":"MDD","v":-0.006,"j":0.09},{"p":"BR","b":"B3","g":"MDD","v":-0.034,"j":-0.03},{"p":"BR","b":"B3","g":"MDD","v":-0.067,"j":0.06},{"p":"BR","b":"B3","g":"MDD","v":-0.117,"j":-0.09},{"p":"BR","b":"B3","g":"MDD","v":-0.173,"j":0.0},{"p":"BR","b":"B3","g":"MDD","v":-0.229,"j":0.05},{"p":"BR","b":"B3","g":"MDD","v":-0.285,"j":-0.05},{"p":"BR","b":"B3","g":"MDD","v":-0.525,"j":-0.06},{"p":"BR","b":"B3","g":"MDD","v":-0.592,"j":0.02},
{"p":"BR","b":"B3","g":"HC","v":2.10,"j":0.02},{"p":"BR","b":"B3","g":"HC","v":0.704,"j":0.0},{"p":"BR","b":"B3","g":"HC","v":0.637,"j":-0.04},{"p":"BR","b":"B3","g":"HC","v":0.514,"j":0.08},{"p":"BR","b":"B3","g":"HC","v":0.391,"j":-0.06},{"p":"BR","b":"B3","g":"HC","v":0.246,"j":0.02},{"p":"BR","b":"B3","g":"HC","v":0.201,"j":-0.07},{"p":"BR","b":"B3","g":"HC","v":0.156,"j":0.04},{"p":"BR","b":"B3","g":"HC","v":0.117,"j":-0.01},{"p":"BR","b":"B3","g":"HC","v":0.089,"j":0.09},{"p":"BR","b":"B3","g":"HC","v":0.056,"j":-0.03},{"p":"BR","b":"B3","g":"HC","v":0.022,"j":0.06},{"p":"BR","b":"B3","g":"HC","v":-0.022,"j":-0.09},{"p":"BR","b":"B3","g":"HC","v":-0.078,"j":0.0},{"p":"BR","b":"B3","g":"HC","v":-0.123,"j":0.05},{"p":"BR","b":"B3","g":"HC","v":-0.173,"j":-0.05},{"p":"BR","b":"B3","g":"HC","v":-0.229,"j":0.03},{"p":"BR","b":"B3","g":"HC","v":-0.302,"j":-0.06},{"p":"BR","b":"B3","g":"HC","v":-0.536,"j":0.0},{"p":"BR","b":"B3","g":"HC","v":-2.88,"j":0.0}
]
},
"columns": 2,
"spacing": {"row": 74, "column": 151.5},
"bounds": "flush",
"resolve": {"legend": {"color": "independent"}},
"concat": [
{
 "width": 241, "height": 358,
 "title": {"text": "Adolescence"},
 "layer": [
  {"data": {"name": "box"},
   "transform": [{"filter": "datum.p == 'TL'"},
    {"calculate": "indexof(['B1','B2','B3'], datum.b) + 1 + (datum.g == 'MDD' ? -0.2 : 0.2)", "as": "c"},
    {"calculate": "datum.c - 0.2", "as": "c0"}, {"calculate": "datum.c + 0.2", "as": "c1"},
    {"calculate": "datum.c - 0.1", "as": "k0"}, {"calculate": "datum.c + 0.1", "as": "k1"}],
   "layer": [
    {"mark": {"type": "rule", "stroke": "#8a8a8a", "strokeWidth": 2},
     "encoding": {
      "x": {"field": "c", "type": "quantitative", "scale": {"domain": [0.5, 3.5], "nice": false, "zero": false}, "axis": {"values": [1, 2, 3], "labelExpr": "'B' + datum.value", "title": null}},
      "y": {"field": "lo", "type": "quantitative", "scale": {"domain": [-0.5, 3], "nice": false, "zero": false}, "axis": {"values": [-0.5, 0, 0.5, 1, 1.5, 2, 2.5, 3], "format": ".1f", "title": "Discriminability [log(d)]"}},
      "y2": {"field": "hi"}}},
    {"mark": {"type": "rect", "stroke": "#8a8a8a", "strokeWidth": 2},
     "encoding": {"x": {"field": "c0", "type": "quantitative"}, "x2": {"field": "c1"}, "y": {"field": "q1", "type": "quantitative"}, "y2": {"field": "q3"},
      "fill": {"condition": {"test": "datum.g == 'MDD'", "value": "#efefef"}, "value": "#ffffff"}}},
    {"mark": {"type": "rule", "stroke": "#8a8a8a", "strokeWidth": 2},
     "encoding": {"x": {"field": "c0", "type": "quantitative"}, "x2": {"field": "c1"}, "y": {"field": "med", "type": "quantitative"}}},
    {"mark": {"type": "rule", "stroke": "#8a8a8a", "strokeWidth": 2},
     "encoding": {"x": {"field": "k0", "type": "quantitative"}, "x2": {"field": "k1"}, "y": {"field": "lo", "type": "quantitative"}}},
    {"mark": {"type": "rule", "stroke": "#8a8a8a", "strokeWidth": 2},
     "encoding": {"x": {"field": "k0", "type": "quantitative"}, "x2": {"field": "k1"}, "y": {"field": "hi", "type": "quantitative"}}}
   ]},
  {"data": {"name": "out"},
   "transform": [{"filter": "datum.p == 'TL'"}, {"calculate": "indexof(['B1','B2','B3'], datum.b) + 1 + (datum.g == 'MDD' ? -0.2 : 0.2)", "as": "c"}],
   "mark": {"type": "point", "shape": "M0,-1L0.65,0L0,1L-0.65,0Z", "filled": true, "size": 90, "fill": "#4d4d4d", "opacity": 0.85, "strokeWidth": 0},
   "encoding": {"x": {"field": "c", "type": "quantitative"}, "y": {"field": "v", "type": "quantitative"}}},
  {"data": {"name": "pts"},
   "transform": [{"filter": "datum.p == 'TL'"}, {"calculate": "indexof(['B1','B2','B3'], datum.b) + 1 + (datum.g == 'MDD' ? -0.2 : 0.2) + datum.j", "as": "x"}],
   "mark": {"type": "point", "filled": true, "size": 50, "opacity": 0.4, "stroke": "#333333", "strokeWidth": 1},
   "encoding": {"x": {"field": "x", "type": "quantitative"}, "y": {"field": "v", "type": "quantitative"},
    "color": {"field": "g", "type": "nominal", "scale": {"domain": ["MDD", "HC"], "range": ["#0173b2", "#de8f05"]},
     "legend": {"title": null, "orient": "none", "legendX": 235, "legendY": 13, "padding": 0, "symbolType": "circle", "symbolSize": 190, "symbolOpacity": 1, "symbolStrokeWidth": 0, "labelFontSize": 14, "labelFontWeight": "bold", "labelColor": "#262626", "labelOffset": 19, "rowPadding": 5}}}}
 ]
},
{
 "width": 241, "height": 358,
 "title": {"text": "Adolescence"},
 "layer": [
  {"data": {"name": "box"},
   "transform": [{"filter": "datum.p == 'TR'"},
    {"calculate": "indexof(['B1','B2','B3'], datum.b) + 1 + (datum.g == 'MDD' ? -0.2 : 0.2)", "as": "c"},
    {"calculate": "datum.c - 0.2", "as": "c0"}, {"calculate": "datum.c + 0.2", "as": "c1"},
    {"calculate": "datum.c - 0.1", "as": "k0"}, {"calculate": "datum.c + 0.1", "as": "k1"}],
   "layer": [
    {"mark": {"type": "rule", "stroke": "#8a8a8a", "strokeWidth": 2},
     "encoding": {
      "x": {"field": "c", "type": "quantitative", "scale": {"domain": [0.5, 3.5], "nice": false, "zero": false}, "axis": {"values": [1, 2, 3], "labelExpr": "'B' + datum.value", "title": null}},
      "y": {"field": "lo", "type": "quantitative", "scale": {"domain": [-3, 3], "nice": false, "zero": false}, "axis": {"values": [-3, -2, -1, 0, 1, 2, 3], "format": "d", "title": "Response Bias [log(b)]"}},
      "y2": {"field": "hi"}}},
    {"mark": {"type": "rect", "stroke": "#8a8a8a", "strokeWidth": 2},
     "encoding": {"x": {"field": "c0", "type": "quantitative"}, "x2": {"field": "c1"}, "y": {"field": "q1", "type": "quantitative"}, "y2": {"field": "q3"},
      "fill": {"condition": {"test": "datum.g == 'MDD'", "value": "#efefef"}, "value": "#ffffff"}}},
    {"mark": {"type": "rule", "stroke": "#8a8a8a", "strokeWidth": 2},
     "encoding": {"x": {"field": "c0", "type": "quantitative"}, "x2": {"field": "c1"}, "y": {"field": "med", "type": "quantitative"}}},
    {"mark": {"type": "rule", "stroke": "#8a8a8a", "strokeWidth": 2},
     "encoding": {"x": {"field": "k0", "type": "quantitative"}, "x2": {"field": "k1"}, "y": {"field": "lo", "type": "quantitative"}}},
    {"mark": {"type": "rule", "stroke": "#8a8a8a", "strokeWidth": 2},
     "encoding": {"x": {"field": "k0", "type": "quantitative"}, "x2": {"field": "k1"}, "y": {"field": "hi", "type": "quantitative"}}}
   ]},
  {"data": {"name": "out"},
   "transform": [{"filter": "datum.p == 'TR'"}, {"calculate": "indexof(['B1','B2','B3'], datum.b) + 1 + (datum.g == 'MDD' ? -0.2 : 0.2)", "as": "c"}],
   "mark": {"type": "point", "shape": "M0,-1L0.65,0L0,1L-0.65,0Z", "filled": true, "size": 90, "fill": "#4d4d4d", "opacity": 0.85, "strokeWidth": 0},
   "encoding": {"x": {"field": "c", "type": "quantitative"}, "y": {"field": "v", "type": "quantitative"}}},
  {"data": {"name": "pts"},
   "transform": [{"filter": "datum.p == 'TR'"}, {"calculate": "indexof(['B1','B2','B3'], datum.b) + 1 + (datum.g == 'MDD' ? -0.2 : 0.2) + datum.j", "as": "x"}],
   "mark": {"type": "point", "filled": true, "size": 50, "opacity": 0.4, "stroke": "#333333", "strokeWidth": 1},
   "encoding": {"x": {"field": "x", "type": "quantitative"}, "y": {"field": "v", "type": "quantitative"},
    "color": {"field": "g", "type": "nominal", "scale": {"domain": ["MDD", "HC"], "range": ["#0173b2", "#de8f05"]}, "legend": null}}}
 ]
},
{
 "width": 241, "height": 358,
 "title": {"text": "Young Adulthood"},
 "layer": [
  {"data": {"name": "box"},
   "transform": [{"filter": "datum.p == 'BL'"},
    {"calculate": "indexof(['B1','B2','B3'], datum.b) + 1 + (datum.g == 'MDD' ? -0.2 : 0.2)", "as": "c"},
    {"calculate": "datum.c - 0.2", "as": "c0"}, {"calculate": "datum.c + 0.2", "as": "c1"},
    {"calculate": "datum.c - 0.1", "as": "k0"}, {"calculate": "datum.c + 0.1", "as": "k1"}],
   "layer": [
    {"mark": {"type": "rule", "stroke": "#8a8a8a", "strokeWidth": 2},
     "encoding": {
      "x": {"field": "c", "type": "quantitative", "scale": {"domain": [0.5, 3.5], "nice": false, "zero": false}, "axis": {"values": [1, 2, 3], "labelExpr": "'B' + datum.value", "title": null}},
      "y": {"field": "lo", "type": "quantitative", "scale": {"domain": [-0.5, 3], "nice": false, "zero": false}, "axis": {"values": [-0.5, 0, 0.5, 1, 1.5, 2, 2.5, 3], "format": ".1f", "title": "Discriminability [log(d)]"}},
      "y2": {"field": "hi"}}},
    {"mark": {"type": "rect", "stroke": "#8a8a8a", "strokeWidth": 2},
     "encoding": {"x": {"field": "c0", "type": "quantitative"}, "x2": {"field": "c1"}, "y": {"field": "q1", "type": "quantitative"}, "y2": {"field": "q3"},
      "fill": {"condition": {"test": "datum.g == 'MDD'", "value": "#efefef"}, "value": "#ffffff"}}},
    {"mark": {"type": "rule", "stroke": "#8a8a8a", "strokeWidth": 2},
     "encoding": {"x": {"field": "c0", "type": "quantitative"}, "x2": {"field": "c1"}, "y": {"field": "med", "type": "quantitative"}}},
    {"mark": {"type": "rule", "stroke": "#8a8a8a", "strokeWidth": 2},
     "encoding": {"x": {"field": "k0", "type": "quantitative"}, "x2": {"field": "k1"}, "y": {"field": "lo", "type": "quantitative"}}},
    {"mark": {"type": "rule", "stroke": "#8a8a8a", "strokeWidth": 2},
     "encoding": {"x": {"field": "k0", "type": "quantitative"}, "x2": {"field": "k1"}, "y": {"field": "hi", "type": "quantitative"}}}
   ]},
  {"data": {"name": "out"},
   "transform": [{"filter": "datum.p == 'BL'"}, {"calculate": "indexof(['B1','B2','B3'], datum.b) + 1 + (datum.g == 'MDD' ? -0.2 : 0.2)", "as": "c"}],
   "mark": {"type": "point", "shape": "M0,-1L0.65,0L0,1L-0.65,0Z", "filled": true, "size": 90, "fill": "#4d4d4d", "opacity": 0.85, "strokeWidth": 0},
   "encoding": {"x": {"field": "c", "type": "quantitative"}, "y": {"field": "v", "type": "quantitative"}}},
  {"data": {"name": "pts"},
   "transform": [{"filter": "datum.p == 'BL'"}, {"calculate": "indexof(['B1','B2','B3'], datum.b) + 1 + (datum.g == 'MDD' ? -0.2 : 0.2) + datum.j", "as": "x"}],
   "mark": {"type": "point", "filled": true, "size": 50, "opacity": 0.4, "stroke": "#333333", "strokeWidth": 1},
   "encoding": {"x": {"field": "x", "type": "quantitative"}, "y": {"field": "v", "type": "quantitative"},
    "color": {"field": "g", "type": "nominal", "scale": {"domain": ["MDD", "HC"], "range": ["#0173b2", "#de8f05"]},
     "legend": {"title": null, "orient": "none", "legendX": 235, "legendY": 12, "padding": 0, "symbolType": "circle", "symbolSize": 190, "symbolOpacity": 1, "symbolStrokeWidth": 0, "labelFontSize": 14, "labelFontWeight": "bold", "labelColor": "#262626", "labelOffset": 19, "rowPadding": 5}}}}
 ]
},
{
 "width": 241, "height": 358,
 "title": {"text": "Young Adulthood"},
 "layer": [
  {"data": {"name": "box"},
   "transform": [{"filter": "datum.p == 'BR'"},
    {"calculate": "indexof(['B1','B2','B3'], datum.b) + 1 + (datum.g == 'MDD' ? -0.2 : 0.2)", "as": "c"},
    {"calculate": "datum.c - 0.2", "as": "c0"}, {"calculate": "datum.c + 0.2", "as": "c1"},
    {"calculate": "datum.c - 0.1", "as": "k0"}, {"calculate": "datum.c + 0.1", "as": "k1"}],
   "layer": [
    {"mark": {"type": "rule", "stroke": "#8a8a8a", "strokeWidth": 2},
     "encoding": {
      "x": {"field": "c", "type": "quantitative", "scale": {"domain": [0.5, 3.5], "nice": false, "zero": false}, "axis": {"values": [1, 2, 3], "labelExpr": "'B' + datum.value", "title": null}},
      "y": {"field": "lo", "type": "quantitative", "scale": {"domain": [-3, 3], "nice": false, "zero": false}, "axis": {"values": [-3, -2, -1, 0, 1, 2, 3], "format": "d", "title": "Response Bias [log(b)]"}},
      "y2": {"field": "hi"}}},
    {"mark": {"type": "rect", "stroke": "#8a8a8a", "strokeWidth": 2},
     "encoding": {"x": {"field": "c0", "type": "quantitative"}, "x2": {"field": "c1"}, "y": {"field": "q1", "type": "quantitative"}, "y2": {"field": "q3"},
      "fill": {"condition": {"test": "datum.g == 'MDD'", "value": "#efefef"}, "value": "#ffffff"}}},
    {"mark": {"type": "rule", "stroke": "#8a8a8a", "strokeWidth": 2},
     "encoding": {"x": {"field": "c0", "type": "quantitative"}, "x2": {"field": "c1"}, "y": {"field": "med", "type": "quantitative"}}},
    {"mark": {"type": "rule", "stroke": "#8a8a8a", "strokeWidth": 2},
     "encoding": {"x": {"field": "k0", "type": "quantitative"}, "x2": {"field": "k1"}, "y": {"field": "lo", "type": "quantitative"}}},
    {"mark": {"type": "rule", "stroke": "#8a8a8a", "strokeWidth": 2},
     "encoding": {"x": {"field": "k0", "type": "quantitative"}, "x2": {"field": "k1"}, "y": {"field": "hi", "type": "quantitative"}}}
   ]},
  {"data": {"name": "out"},
   "transform": [{"filter": "datum.p == 'BR'"}, {"calculate": "indexof(['B1','B2','B3'], datum.b) + 1 + (datum.g == 'MDD' ? -0.2 : 0.2)", "as": "c"}],
   "mark": {"type": "point", "shape": "M0,-1L0.65,0L0,1L-0.65,0Z", "filled": true, "size": 90, "fill": "#4d4d4d", "opacity": 0.85, "strokeWidth": 0},
   "encoding": {"x": {"field": "c", "type": "quantitative"}, "y": {"field": "v", "type": "quantitative"}}},
  {"data": {"name": "pts"},
   "transform": [{"filter": "datum.p == 'BR'"}, {"calculate": "indexof(['B1','B2','B3'], datum.b) + 1 + (datum.g == 'MDD' ? -0.2 : 0.2) + datum.j", "as": "x"}],
   "mark": {"type": "point", "filled": true, "size": 50, "opacity": 0.4, "stroke": "#333333", "strokeWidth": 1},
   "encoding": {"x": {"field": "x", "type": "quantitative"}, "y": {"field": "v", "type": "quantitative"},
    "color": {"field": "g", "type": "nominal", "scale": {"domain": ["MDD", "HC"], "range": ["#0173b2", "#de8f05"]}, "legend": null}}}
 ]
}
]
}
